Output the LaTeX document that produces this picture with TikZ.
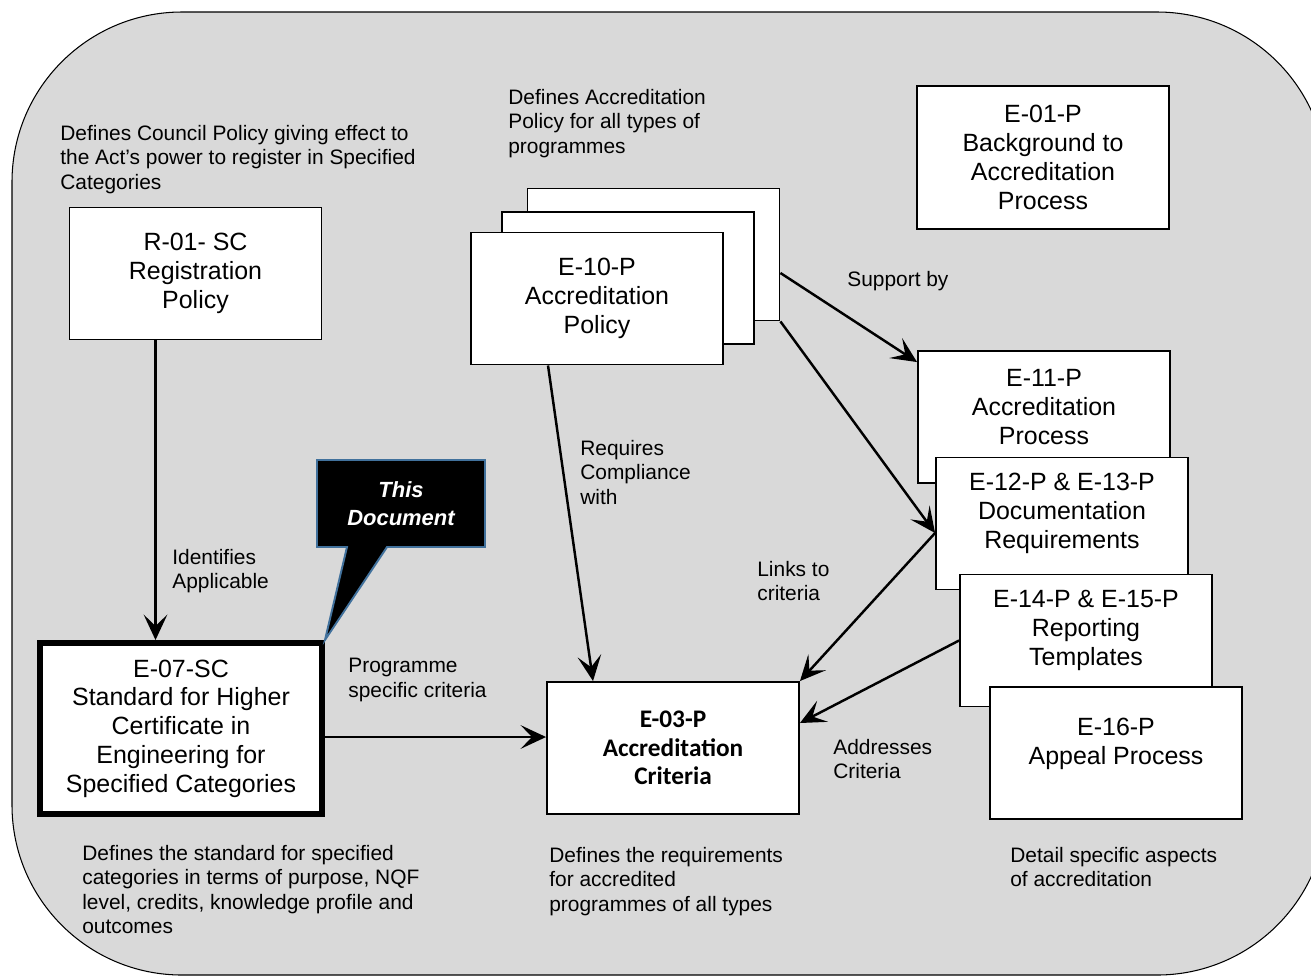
\documentclass[tikz,border=0pt]{standalone}
\usepackage{fontspec}
\setmainfont{Liberation Sans}
\newfontfamily\calibrifont{Carlito}
\usetikzlibrary{arrows.meta, positioning}
\definecolor{panelgrey}{HTML}{D9D9D9}
\definecolor{calloutblue}{HTML}{41719C}

\begin{document}
\begin{tikzpicture}[x=0.02cm, y=-0.02cm,
    doc/.style={draw, fill=white, line width=1.1pt, minimum width=5.04cm, minimum height=2.64cm,
      align=center, inner sep=2pt, font=\fontsize{14.2}{16.4}\selectfont},
    doctext/.style={align=center, inner sep=0pt, font=\fontsize{14.2}{16.4}\selectfont},
    note/.style={anchor=north west, align=left, inner sep=0pt, font=\fontsize{11.9}{13.9}\selectfont},
    link/.style={-{Stealth[length=14.5pt, width=13.5pt, inset=6.5pt]}, line width=1.4pt}]
  \useasboundingbox (0,0) rectangle (1311,978);
  % background panel
  \draw[line width=0.6pt, fill=panelgrey, rounded corners=3.4cm] (12,12) rectangle (1327,975);

  % documents
  \node[doc] (reg) at (195.5,273.5) {R-01- SC\\Registration\\Policy};
  \node[doc] (e10c) at (653.5,254.5) {};
  \node[doc] (e10b) at (628,278) {};
  \node[doc] (e10) at (597,298.5) {E-10-P\\Accreditation\\Policy};
  \node[doc, minimum height=2.86cm] (e01) at (1043,157.5) {E-01-P\\Background to\\Accreditation\\Process};
  \node[doc] (e11) at (1044,417) {};
  \node[doctext] (e11text) at ([yshift=0.2cm]e11.center) {E-11-P\\Accreditation\\Process};
  \node[doc] (e12) at (1062,523.5) {};
  \node[doctext] (e12text) at ([yshift=0.2cm]e12.center) {E-12-P \& E-13-P\\Documentation\\Requirements};
  \node[doc] (e14) at (1086,640.5) {};
  \node[doctext] (e14text) at ([yshift=0.2cm]e14.center) {E-14-P \& E-15-P\\Reporting\\Templates};
  \node[doc] (e16) at (1116,753) {};
  \node[doctext] (e16text) at ([yshift=0.18cm]e16.center) {E-16-P\\Appeal Process};
  \node[doc, font=\fontsize{14.4}{16.2}\calibrifont\bfseries] (e03) at (673,748) {E-03-P\\Accreditation\\Criteria};
  \node[doc, line width=3.4pt, minimum width=5.64cm, minimum height=3.42cm] (e07) at (181,728.5)
    {E-07-SC\\Standard for Higher\\Certificate in\\Engineering for\\Specified Categories};

  % this document callout
  \draw[calloutblue, line width=1.1pt, fill=black] (317,460) -- (485,460) -- (485,547) -- (387,547)
    -- (e07.north east) -- (347,547) -- (317,547) -- cycle;
  \node[text=white, align=center, font=\fontsize{12.5}{15.9}\selectfont\bfseries\itshape] (thisdoc) at (401,503.5) {This\\Document};

  % connectors
  \draw[link] ([xshift=-0.8cm]reg.south) -- ([xshift=-0.8cm]reg.south |- e07.north);
  \draw[link] ([xshift=-0.98cm]e10.south) -- ([xshift=-1.6cm]e03.north);
  \draw[link] ([yshift=-0.17cm]e07.east) -- ([yshift=-0.17cm]e07.east -| e03.west);
  \draw[link] ([yshift=-0.37cm]e10c.east) -- ([yshift=-0.24cm]e11.north west);
  \draw[link] (e10c.south east) -- ([yshift=-0.19cm]e12.west);
  \draw[link] ([yshift=-0.19cm]e12.west) -- (e03.north east);
  \draw[link] (e14.west) -- ([yshift=0.5cm]e03.east);

  % texts
  \node[note] (council) at (60,125) {Defines Council Policy giving effect to\\the Act’s power to register in Specified\\Categories};
  \node[note] (accpol) at (508,89) {Defines Accreditation\\Policy for all types of\\programmes};
  \node[note] (support) at (847,271) {Support by};
  \node[note] (requires) at (580,440) {Requires\\Compliance\\with};
  \node[note] (identifies) at (172,549) {Identifies\\Applicable};
  \node[note] (links) at (757,561) {Links to\\criteria};
  \node[note] (specific) at (348,658) {Programme\\specific criteria};
  \node[note] (addresses) at (833,739) {Addresses\\Criteria};
  \node[note] (stddef) at (82,845) {Defines the standard for specified\\categories in terms of purpose, NQF\\level, credits, knowledge profile and\\outcomes};
  \node[note] (reqdef) at (549,847) {Defines the requirements\\for accredited\\programmes of all types};
  \node[note] (detail) at (1010,847) {Detail specific aspects\\of accreditation};
\end{tikzpicture}
\end{document}
